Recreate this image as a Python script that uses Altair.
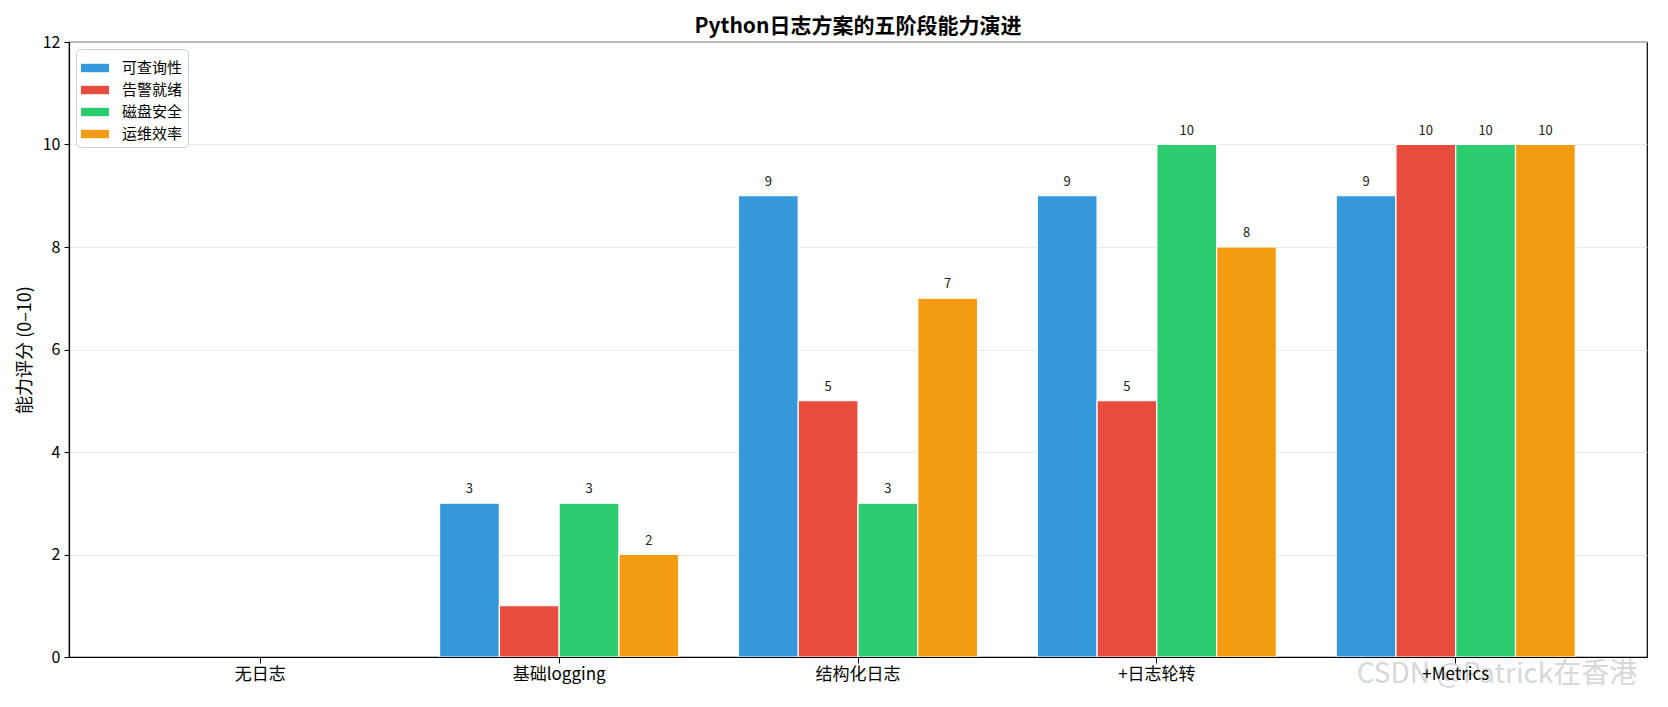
import altair as alt
import pandas as pd

stages = ["无日志", "基础logging", "结构化日志", "+日志轮转", "+Metrics"]
series = ["可查询性", "告警就绪", "磁盘安全", "运维效率"]
queryability = [0, 3, 9, 9, 9]
alert_ready = [0, 1, 5, 5, 10]
disk_safety = [0, 3, 3, 10, 10]
ops_efficiency = [0, 2, 7, 8, 10]
colors = ["#3498db", "#e74c3c", "#2ecc71", "#f39c12"]
y_ticks = [0, 2, 4, 6, 8, 10, 12]
watermark = ["CSDN @Patrick在香港"]

rows = []
for s, vals in zip(series, [queryability, alert_ready, disk_safety, ops_efficiency]):
    for st, v in zip(stages, vals):
        rows.append({"stage": st, "series": s, "value": v})
df = pd.DataFrame(rows)

FONT = "Noto Sans CJK SC"

base = alt.Chart(df).encode(
    x=alt.X(
        "stage:N",
        sort=stages,
        scale=alt.Scale(domain=stages, paddingInner=0.2, paddingOuter=0.24),
        axis=alt.Axis(title=None, labelAngle=0, labelFontSize=17, labelColor="#000000",
                      tickColor="#000000", tickSize=6, labelPadding=3, domain=True,
                      domainColor="#000000", domainWidth=1.2, grid=False, zindex=1),
    ),
    xOffset=alt.XOffset("series:N", sort=series,
                        scale=alt.Scale(domain=series, paddingInner=0, paddingOuter=0)),
    y=alt.Y(
        "value:Q",
        scale=alt.Scale(domain=[0, 12], nice=False),
        axis=alt.Axis(title="能力评分 (0–10)", values=y_ticks, titleFontSize=18,
                      titleFontWeight="normal", titleColor="#000000", labelFontSize=16,
                      labelColor="#000000", tickColor="#000000", tickSize=5, labelPadding=4,
                      titlePadding=8, domain=True, domainColor="#000000", domainWidth=1.2,
                      grid=True, gridColor="#e6e6e6", gridWidth=0.8),
    ),
)

bars = base.transform_filter("datum.value > 0").mark_bar(stroke="white", strokeWidth=1.2).encode(
    color=alt.Color(
        "series:N",
        sort=series,
        scale=alt.Scale(domain=series, range=colors),
        legend=alt.Legend(
            title=None, orient="top-left", offset=7, fillColor="white",
            strokeColor="#cccccc", cornerRadius=4, padding=5, labelFontSize=15,
            labelColor="#000000", symbolType="M-1,-0.3H1V0.3H-1Z", symbolSize=784,
            symbolStrokeWidth=0, labelOffset=13, rowPadding=0,
        ),
    )
)

labels = base.transform_filter("datum.value > 1").mark_text(
    baseline="alphabetic", dy=-10, fontSize=13, color="#222222", font=FONT
).encode(text=alt.Text("value:Q"))

wm = alt.Chart(pd.DataFrame({"t": watermark})).mark_text(
    fontSize=28, color="#bdbdbd", opacity=0.6, align="center", baseline="middle", font=FONT
).encode(text="t:N", x=alt.value(1428), y=alt.value(633))

chart = alt.layer(bars, labels, wm).properties(
    width=1578,
    height=615,
    padding={"left": 8, "right": 1, "top": 8, "bottom": 2},
    title=alt.TitleParams("Python日志方案的五阶段能力演进", fontSize=21, fontWeight="bold",
                          font=FONT, color="#000000", offset=-3),
).configure(font=FONT).configure_view(stroke="#000000", strokeWidth=1.2)

chart.save("out.html", embed_options={"renderer": "svg", "actions": False})
